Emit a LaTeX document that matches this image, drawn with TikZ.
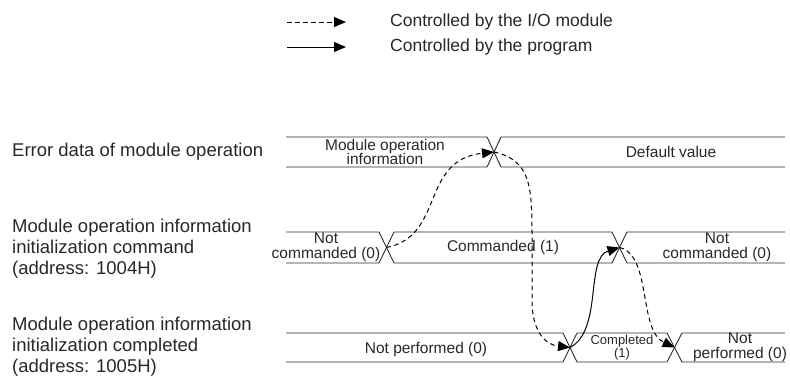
\documentclass[tikz,border=0pt]{standalone}
\usepackage{fontspec}
\setmainfont{Liberation Sans}
\usetikzlibrary{arrows.meta}
\definecolor{ink}{RGB}{40,40,40}
\definecolor{wire}{RGB}{45,45,45}
\tikzset{
  lbl/.style={anchor=west,align=left,inner sep=0pt,text=ink,font=\fontsize{18.5}{21}\selectfont},
  legtxt/.style={anchor=west,inner sep=0pt,text=ink,font=\fontsize{17.5}{21}\selectfont},
  boxtxt/.style={align=center,inner sep=0pt,text=ink,font=\fontsize{15.5}{14.5}\selectfont},
  smalltxt/.style={align=center,inner sep=0pt,text=ink,font=\fontsize{13}{12.5}\selectfont},
  sig/.style={draw=wire,line width=0.9pt,line join=miter},
  ctl/.style={draw=black,line width=1pt,-{Triangle[length=12pt,width=10pt]}},
  iomod/.style={ctl,dash pattern=on 4.5pt off 3.5pt},
}
\begin{document}
\begin{tikzpicture}[x=1pt,y=-1pt]
\useasboundingbox (0,0) rectangle (790,378);

% legend
\coordinate (ld1) at (287,22); \coordinate (ld2) at (346,22);
\coordinate (ls1) at (287,47); \coordinate (ls2) at (346,47);
\draw[iomod] (ld1) -- (ld2);
\draw[ctl] (ls1) -- (ls2);
\node[legtxt] (legio) at (390,22) {Controlled by the I/O module};
\node[legtxt] (legpr) at (390,47) {Controlled by the program};

% left labels
\node[lbl] (lab1) at (12,152) {Error data of module operation};
\node[lbl] (lab2) at (12,249) {Module operation information\\initialization command\\(address: 1004H)};
\node[lbl] (lab3) at (12,347) {Module operation information\\initialization completed\\(address: 1005H)};

% row 1: top 137, bottom 167
\draw[sig] (286,137) -- (487,137) -- (501,167) -- (785,167);
\draw[sig] (286,167) -- (487,167) -- (501,137) -- (785,137);
\coordinate (c1) at (494,152);
\node[boxtxt] (t11) at (385,152) {Module operation\\information};
\node[boxtxt] (t12) at (671,152) {Default value};

% row 2: top 232, bottom 263
\draw[sig] (286,232) -- (379,232) -- (394,263) -- (612,263) -- (627,232) -- (785,232);
\draw[sig] (286,263) -- (379,263) -- (394,232) -- (612,232) -- (627,263) -- (785,263);
\coordinate (c21) at (386.5,247.5);
\coordinate (c22) at (619.5,247.5);
\node[boxtxt] (t21) at (326,247.5) {Not\\commanded (0)};
\node[boxtxt] (t22) at (503,247.5) {Commanded (1)};
\node[boxtxt] (t23) at (717,247.5) {Not\\commanded (0)};

% row 3: top 333, bottom 362
\draw[sig] (286,333) -- (563,333) -- (577,362) -- (667,362) -- (682,333) -- (785,333);
\draw[sig] (286,362) -- (563,362) -- (577,333) -- (667,333) -- (682,362) -- (785,362);
\coordinate (c31) at (570,347.5);
\coordinate (c32) at (674.5,347.5);
\node[boxtxt] (t31) at (426,349) {Not performed (0)};
\node[smalltxt] (t32) at (622,347.5) {Completed\\(1)};
\node[boxtxt] (t33) at (740,347.5) {Not\\performed (0)};

% control arrows
\draw[iomod] (c21) .. controls (445,236) and (420,160) .. (c1);
\draw[iomod] (c1) .. controls (530,160) and (532,185) .. (532,235) -- (532,300) .. controls (532,335) and (548,345) .. (c31);
\draw[ctl] (c31) .. controls (603,330) and (585,258) .. (c22);
\draw[iomod] (c22) .. controls (652,255) and (638,330) .. (c32);
\end{tikzpicture}
\end{document}
